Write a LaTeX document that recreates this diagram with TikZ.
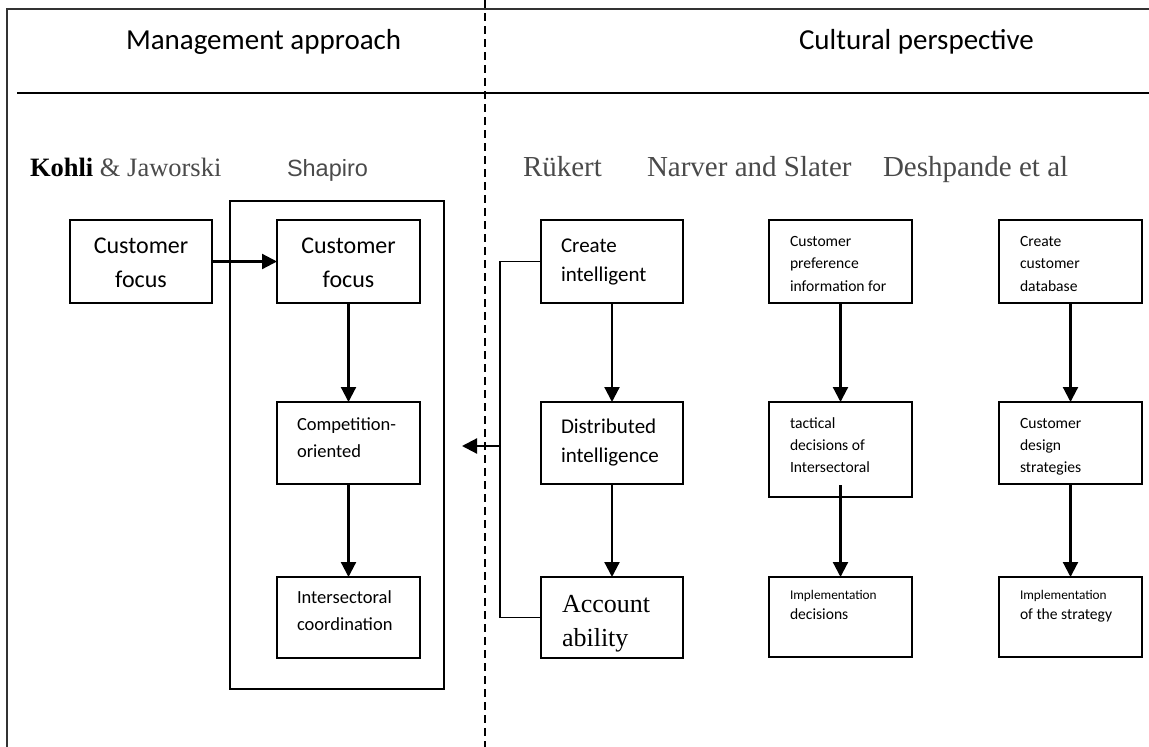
\documentclass[tikz,border=0pt]{standalone}
\usepackage{fontspec}
\setmainfont{Liberation Serif}
\newfontfamily\calfont{Carlito}
\newfontfamily\arifont{Liberation Sans}
\usetikzlibrary{arrows.meta,calc}
\definecolor{framegray}{HTML}{333333}
\definecolor{headgray}{HTML}{4A4A4A}
\newcommand{\fs}[2]{\fontsize{#1}{#2}\selectfont}
\newcommand{\lstack}[2]{\vtop{\baselineskip=#1\relax\lineskiplimit=-100pt\relax\halign{##\hfil\cr#2\crcr}}}
\newcommand{\cstack}[2]{\vtop{\baselineskip=#1\relax\lineskiplimit=-100pt\relax\halign{\hfil##\hfil\cr#2\crcr}}}
\tikzset{
  boxnode/.style={draw, line width=1.3pt, inner sep=0pt, outer sep=0pt, anchor=north west},
  txt/.style={inner sep=0pt, outer sep=0pt, anchor=base west},
  arr/.style={line width=2.2pt, -{Triangle[length=15pt,width=15pt]}},
  thinline/.style={line width=1.3pt},
  bigtxt/.style={txt, font=\calfont\fs{24}{34}},
  midtxt/.style={txt, font=\calfont\fs{21}{29}},
  smtxt/.style={txt, font=\calfont\fs{18.5}{27}},
  tinytxt/.style={txt, font=\calfont\fs{15.6}{22}},
  authtxt/.style={txt, font=\fs{29}{33}, text=headgray},
}
\begin{document}
\begin{tikzpicture}[x=1pt,y=-1pt]
\useasboundingbox (0,0) rectangle (1149,747);
% frame
\draw[framegray, line width=1.2pt] (7,747) -- (7,9) -- (1149,9);
\draw[line width=2pt] (17,93) -- (1149,93);
\draw[line width=1.3pt, dash pattern=on 8pt off 5pt] (485,0) -- (485,747);
% headers
\node[txt, font=\calfont\fs{29}{34}] (hma) at (126,49) {Management approach};
\node[txt, font=\calfont\fs{29}{34}] (hcp) at (799,49) {Cultural perspective};
\node[txt, font=\fs{26.5}{30}] (hkj) at (30,176) {\textbf{Kohli} \textcolor{headgray}{\& Jaworski}};
\node[txt, font=\arifont\fs{23.5}{28}, text=headgray] (hsh) at (287,176) {Shapiro};
\node[authtxt] (hrk) at (523,176) {Rükert};
\node[authtxt] (hnv) at (647,176) {Narver and Slater};
\node[authtxt] (hdp) at (883,176) {Deshpande et al};
% boxes
\node[boxnode, minimum width=142pt, minimum height=83pt] (kj) at (70,220) {};
\node[boxnode, minimum width=214pt, minimum height=488pt] (shbig) at (230,201) {};
\node[boxnode, minimum width=143pt, minimum height=83pt] (sh1) at (277,220) {};
\node[boxnode, minimum width=143pt, minimum height=82pt] (sh2) at (277,402) {};
\node[boxnode, minimum width=143pt, minimum height=81pt] (sh3) at (277,577) {};
\node[boxnode, minimum width=142pt, minimum height=83pt] (rk1) at (541,220) {};
\node[boxnode, minimum width=142pt, minimum height=82pt] (rk2) at (541,402) {};
\node[boxnode, minimum width=142pt, minimum height=81pt] (rk3) at (541,577) {};
\node[boxnode, minimum width=143pt, minimum height=83pt] (nv1) at (769,220) {};
\node[boxnode, minimum width=143pt, minimum height=95pt] (nv2) at (769,402) {};
\node[boxnode, minimum width=143pt, minimum height=80pt] (nv3) at (769,577) {};
\node[boxnode, minimum width=143pt, minimum height=83pt] (dp1) at (999,220) {};
\node[boxnode, minimum width=143pt, minimum height=82pt] (dp2) at (999,402) {};
\node[boxnode, minimum width=143pt, minimum height=80pt] (dp3) at (999,577) {};
% box texts
\node[bigtxt, anchor=base] (kjt) at (141,253) {\cstack{34pt}{Customer\cr focus}};
\node[bigtxt, anchor=base] (sh1t) at (348.5,253) {\cstack{34pt}{Customer\cr focus}};
\node[smtxt] (sh2t) at (297,430) {\lstack{27pt}{Competition-\cr oriented}};
\node[smtxt] (sh3t) at (297,603) {\lstack{27pt}{Intersectoral\cr coordination}};
\node[midtxt] (rk1t) at (561,252) {\lstack{29pt}{Create\cr intelligent}};
\node[midtxt] (rk2t) at (561,433) {\lstack{29pt}{Distributed\cr intelligence}};
\node[txt, font=\fs{26}{34}] (rk3t) at (562,612) {\lstack{34pt}{Account\cr ability}};
\node[tinytxt] (nv1t) at (790,246) {\lstack{22.5pt}{Customer\cr preference\cr information for}};
\node[tinytxt] (nv2t) at (790,428) {\lstack{22pt}{tactical\cr decisions of\cr Intersectoral}};
\node[tinytxt] (nv3t) at (790,599) {\lstack{20.5pt}{{\fs{13.3}{16}Implementation}\cr decisions}};
\node[tinytxt] (dp1t) at (1020,246) {\lstack{22.5pt}{Create\cr customer\cr database}};
\node[tinytxt] (dp2t) at (1020,428) {\lstack{22pt}{Customer\cr design\cr strategies}};
\node[tinytxt] (dp3t) at (1020,599) {\lstack{20.5pt}{{\fs{13.3}{16}Implementation}\cr of the strategy}};
% connectors
\draw[arr] (kj) -- (sh1);
\draw[arr] (sh1) -- (sh2);
\draw[arr] (sh2) -- (sh3);
\draw[arr] (rk1) -- (rk2);
\draw[arr] (rk2) -- (rk3);
\draw[arr] (nv1) -- (nv2);
\draw[arr] ([yshift=12pt]nv2.south) -- (nv3);
\draw[arr] (dp1) -- (dp2);
\draw[arr] (dp2) -- (dp3);
\coordinate (bx) at (500,446);
\coordinate (tip) at (462,446);
\draw[thinline] (rk1.west) -- (rk1.west -| bx) -- (rk3.west -| bx) -- (rk3.west);
\draw[arr] (bx) -- (tip);
\end{tikzpicture}
\end{document}
